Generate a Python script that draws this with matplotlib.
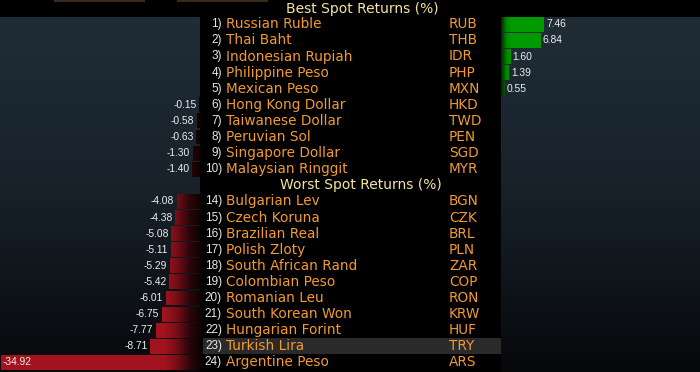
import numpy as np
import matplotlib
matplotlib.use("Agg")
import matplotlib.pyplot as plt
from matplotlib.colors import LinearSegmentedColormap
from matplotlib.patches import Rectangle
from matplotlib import transforms

# --- data ---
best_rank = [1, 2, 3, 4, 5, 6, 7, 8, 9, 10]
best_names = ["Russian Ruble", "Thai Baht", "Indonesian Rupiah", "Philippine Peso",
              "Mexican Peso", "Hong Kong Dollar", "Taiwanese Dollar", "Peruvian Sol",
              "Singapore Dollar", "Malaysian Ringgit"]
best_codes = ["RUB", "THB", "IDR", "PHP", "MXN", "HKD", "TWD", "PEN", "SGD", "MYR"]
best_vals = [7.46, 6.84, 1.60, 1.39, 0.55, -0.15, -0.58, -0.63, -1.30, -1.40]

worst_rank = [14, 15, 16, 17, 18, 19, 20, 21, 22, 23, 24]
worst_names = ["Bulgarian Lev", "Czech Koruna", "Brazilian Real", "Polish Zloty",
               "South African Rand", "Colombian Peso", "Romanian Leu",
               "South Korean Won", "Hungarian Forint", "Turkish Lira", "Argentine Peso"]
worst_codes = ["BGN", "CZK", "BRL", "PLN", "ZAR", "COP", "RON", "KRW", "HUF", "TRY", "ARS"]
worst_vals = [-4.08, -4.38, -5.08, -5.11, -5.29, -5.42, -6.01, -6.75, -7.77, -8.71, -34.92]

best_title = "Best Spot Returns (%)"
worst_title = "Worst Spot Returns (%)"
highlight = "TRY"

# rows: 0 = best header, 1..10 best, 11 = worst header, 12..22 worst
ranks = best_rank + worst_rank
names = best_names + worst_names
codes = best_codes + worst_codes
vals = best_vals + worst_vals
rows = list(range(1, 11)) + list(range(12, 23))

W, H = 700, 372
row_h = 16.1
row0 = 8.2
ylims = ((H - row0) / row_h, -row0 / row_h)

small = ["Liberation Sans Narrow", "Liberation Sans", "DejaVu Sans"]
orange = "#f29a30"
label_col = "#ececec"

fig = plt.figure(figsize=(7, 3.72), dpi=100, facecolor="black")

# side panel backgrounds (vertical gradient)
bg_cmap = LinearSegmentedColormap.from_list("bg", ["#202d37", "#17212a", "#07080a"])
grad = np.linspace(0, 1, 256).reshape(-1, 1)
for x0, x1 in [(0, 200), (501, 700)]:
    bax = fig.add_axes([x0 / W, 0, (x1 - x0) / W, 355 / H])
    bax.imshow(grad, aspect="auto", cmap=bg_cmap, extent=[0, 1, 0, 1], origin="upper")
    bax.set_axis_off()

# faint cut-off strokes at the very top
for x0, x1 in [(54, 145), (177, 268)]:
    fig.add_artist(Rectangle((x0 / W, 1 - 2 / H), (x1 - x0) / W, 2 / H,
                             transform=fig.transFigure, color="#3a2a1b", lw=0))

red_cmap = LinearSegmentedColormap.from_list(
    "red", [(0, "#a3131f"), (0.82, "#a3131f"), (0.88, "#7a0e18"), (0.95, "#2a0509"), (1, "#100203")])
green_cmap = LinearSegmentedColormap.from_list(
    "green", [(0, "#002a00"), (0.025, "#008a00"), (0.05, "#009a00"), (1, "#009a00")])

# left axes: negative bars
axl = fig.add_axes([0, 0, 200 / W, 1])
axl.set_axis_off()
axl.patch.set_alpha(0)

# right axes: positive bars
axr = fig.add_axes([501 / W, 0, 199 / W, 1])
axr.set_axis_off()
axr.patch.set_alpha(0)

hgrad = np.linspace(0, 1, 512).reshape(1, -1)
bh = 0.93
for r, v in zip(rows, vals):
    if v < 0:
        bars = axl.barh(r, v, height=bh, color="none", lw=0)
        im = axl.imshow(hgrad, cmap=red_cmap, aspect="auto",
                        extent=[-35.09, 0, r + bh / 2, r - bh / 2])
        im.set_clip_path(bars[0])
        if v < -30:
            off = transforms.offset_copy(axl.transData, fig=fig, x=3, y=0, units="dots")
            axl.text(-35.09, r, f"{v:.2f}", transform=off, ha="left", va="center",
                     color=label_col, fontsize=7.4, family=small)
        else:
            off = transforms.offset_copy(axl.transData, fig=fig, x=-2.5, y=0, units="dots")
            axl.text(v, r, f"{v:.2f}", transform=off, ha="right", va="center",
                     color=label_col, fontsize=7.4, family=small)
    else:
        bars = axr.barh(r, v, height=bh, color="none", lw=0)
        im = axr.imshow(hgrad, cmap=green_cmap, aspect="auto",
                        extent=[0, 34.9, r + bh / 2, r - bh / 2])
        im.set_clip_path(bars[0])
        off = transforms.offset_copy(axr.transData, fig=fig, x=2.5, y=0, units="dots")
        axr.text(v, r, f"{v:.2f}", transform=off, ha="left", va="center",
                 color=label_col, fontsize=7.4, family=small)
axl.set_xlim(-35.09, 0)
axl.set_ylim(*ylims)
axr.set_xlim(0, 34.9)
axr.set_ylim(*ylims)

# middle table (pixel x)
axm = fig.add_axes([0, 0, 1, 1])
axm.set_xlim(0, W)
axm.set_ylim(*ylims)
axm.set_axis_off()
axm.patch.set_alpha(0)

axm.text(362, 0.08, best_title, ha="center", va="center", color="#f3e4a4", fontsize=10)
axm.text(361, 11, worst_title, ha="center", va="center", color="#f3e4a4", fontsize=10)

for r, k, n, c in zip(rows, ranks, names, codes):
    if c == highlight:
        axm.add_patch(Rectangle((203, r - 0.5), 298, 1.0, color="#2a2a2a", lw=0))
    axm.text(222, r, f"{k})", ha="right", va="center", color="#e8e8e8",
             fontsize=8.5, family=small)
    axm.text(226, r, n, ha="left", va="center", color=orange, fontsize=9.8)
    axm.text(449, r, c, ha="left", va="center", color=orange, fontsize=9.8)

fig.savefig("out.png", dpi=100, facecolor="black")
